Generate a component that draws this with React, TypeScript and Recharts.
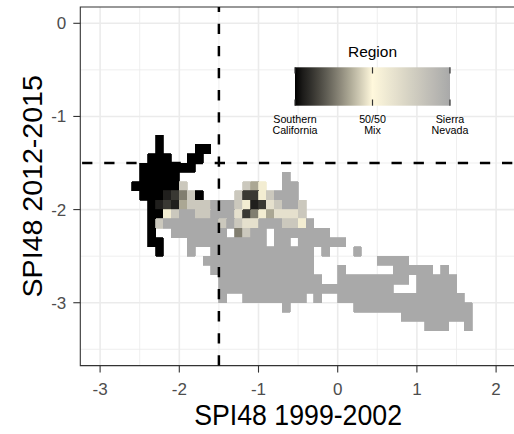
import React from 'react';
import {
  ScatterChart,
  XAxis,
  YAxis,
  CartesianGrid,
  ReferenceArea,
  ReferenceLine,
  Label,
} from 'recharts';

// ---- axes (SPI48 units) ----
const X_DOMAIN: [number, number] = [-3.25, 2.25];
const Y_DOMAIN: [number, number] = [-3.675, 0.175];
const X_TICKS = [-3, -2, -1, 0, 1, 2];
const Y_TICKS = [0, -1, -2, -3];
const X_MINOR = [-2.5, -1.5, -0.5, 0.5, 1.5];
const Y_MINOR = [-0.5, -1.5, -2.5, -3.5];
const DROUGHT_THRESHOLD = -1.5;

// ---- gridded cells, 0.1 x 0.1 SPI units ----
// Each row is keyed by its upper SPI48 2012-2015 edge. A run starts at a
// SPI48 1999-2002 left edge given in tenths and lists one region code per cell.
const ROW_TOP = [
  -1.2, -1.3, -1.4, -1.5, -1.6, -1.7, -1.8, -1.9, -2.0, -2.1, -2.2,
  -2.3, -2.4, -2.5, -2.6, -2.7, -2.8, -2.9, -3.0, -3.1, -3.2,
];

const ROW_RUNS: [number, string][][] = [
  [[-23, 'K']],
  [[-23, 'K'], [-18, 'KK']],
  [[-24, 'KKK'], [-19, 'KK']],
  [[-25, 'KKKKKKK']],
  [[-25, 'KKKKK'], [-7, 'G']],
  [[-26, 'KKKKKKg'], [-12, 'gtb'], [-7, 'GG']],
  [[-25, 'KKKEDdgK'], [-13, 'gDDbgGGG']],
  [[-24, 'KEDEtgggGGGgbEDlgGGg']],
  [[-24, 'KKbgGGggGGGlDdbtlllg']],
  [[-24, 'KgGGGGGGGgGgllGGGggbG']],
  [[-24, 'K'], [-21, 'GGGGGGG'], [-13, 'dgGG'], [-8, 'GGGGGGG']],
  [[-24, 'KK'], [-19, 'GGGGGGGGGG'], [-8, 'GG'], [-5, 'GGGGGG']],
  [[-23, 'K'], [-19, 'G'], [-16, 'GGGGGGGGGGGGG'], [-2, 'G'], [2, 'G']],
  [[-17, 'GGGGGGGGGGGGGG'], [5, 'GGGG']],
  [[-16, 'GGGGGGGGGGGGG'], [0, 'G'], [7, 'GGGGG'], [13, 'G']],
  [[-15, 'GGGGGGGGGGGGG'], [0, 'GGGGGGGGG'], [10, 'GGGGG']],
  [[-15, 'GGGGGGGGGGGGGGGGGGGGGG'], [10, 'GGGGG']],
  [[-15, 'G'], [-12, 'GGGGGGGG'], [-3, 'G'], [0, 'GGGGGGGGGGGGGGGG']],
  [[-7, 'G'], [2, 'GGGGGGGGGGGGGGG']],
  [[8, 'GGGGGGGGG']],
  [[11, 'GGG'], [16, 'G']],
];

// Share of each cell attributed to the Sierra Nevada
// (0 = Southern California, 0.5 = even mix, 1 = Sierra Nevada).
const REGION_SHARE: Record<string, number> = {
  K: 0,
  E: 0.06,
  D: 0.12,
  d: 0.27,
  t: 0.35,
  b: 0.48,
  l: 0.65,
  g: 0.8,
  G: 1,
};

// ---- fill scale and its colour bar ----
const SCALE_STOPS = ['#000000', '#FFF8DC', '#A9A9A9'];
const LEGEND_BREAKS = [0, 0.5, 1];
const LEGEND_LABELS = [
  ['Southern', 'California'],
  ['50/50', 'Mix'],
  ['Sierra', 'Nevada'],
];

const FONT = '"Liberation Sans", Arial, Helvetica, sans-serif';

// Lab interpolation between the three scale stops
const toLin = (c: number) => {
  const v = c / 255;
  return v <= 0.04045 ? v / 12.92 : Math.pow((v + 0.055) / 1.055, 2.4);
};
const fromLin = (c: number) => {
  const v = c <= 0.0031308 ? 12.92 * c : 1.055 * Math.pow(c, 1 / 2.4) - 0.055;
  return Math.round(Math.max(0, Math.min(1, v)) * 255);
};
const EPS = 216 / 24389;
const KAPPA = 24389 / 27;
function hexToLab(hex: string): [number, number, number] {
  const r = toLin(parseInt(hex.slice(1, 3), 16));
  const g = toLin(parseInt(hex.slice(3, 5), 16));
  const b = toLin(parseInt(hex.slice(5, 7), 16));
  const X = (0.4124 * r + 0.3576 * g + 0.1805 * b) / 0.95047;
  const Y = 0.2126 * r + 0.7152 * g + 0.0722 * b;
  const Z = (0.0193 * r + 0.1192 * g + 0.9505 * b) / 1.08883;
  const f = (t: number) => (t > EPS ? Math.cbrt(t) : (KAPPA * t + 16) / 116);
  const fx = f(X);
  const fy = f(Y);
  const fz = f(Z);
  return [116 * fy - 16, 500 * (fx - fy), 200 * (fy - fz)];
}
function labToHex([L, a, bb]: [number, number, number]) {
  const fy = (L + 16) / 116;
  const fx = fy + a / 500;
  const fz = fy - bb / 200;
  const inv = (t: number) => (t * t * t > EPS ? t * t * t : (116 * t - 16) / KAPPA);
  const X = inv(fx) * 0.95047;
  const Y = inv(fy);
  const Z = inv(fz) * 1.08883;
  const r = 3.2406 * X - 1.5372 * Y - 0.4986 * Z;
  const g = -0.9689 * X + 1.8758 * Y + 0.0415 * Z;
  const b = 0.0557 * X - 0.204 * Y + 1.057 * Z;
  return '#' + [r, g, b].map(fromLin).map((v) => v.toString(16).padStart(2, '0')).join('');
}
const LAB_STOPS = SCALE_STOPS.map(hexToLab);
function regionColor(share: number) {
  const lo = share <= 0.5 ? 0 : 1;
  const t = share <= 0.5 ? share / 0.5 : (share - 0.5) / 0.5;
  const A = LAB_STOPS[lo];
  const B = LAB_STOPS[lo + 1];
  return labToHex([0, 1, 2].map((i) => A[i] + (B[i] - A[i]) * t) as [number, number, number]);
}

const tenth = (v: number) => Math.round(v * 1000) / 1000;
const cells = ROW_TOP.flatMap((top, r) =>
  ROW_RUNS[r].flatMap(([k0, codes]) =>
    codes.split('').map((code, j) => ({
      x1: tenth((k0 + j) / 10),
      x2: tenth((k0 + j + 1) / 10),
      y1: tenth(top - 0.1),
      y2: top,
      color: regionColor(REGION_SHARE[code]),
    }))
  )
);

// axis titles are drawn slightly taller than wide
const TITLE_SIZE = 26.7;
const TITLE_STRETCH = 1.07;

const XTitle = (props: any) => {
  const vb = props.viewBox || {};
  const x = vb.x + vb.width / 2;
  const y = vb.y + vb.height - 9;
  return (
    <text
      transform={`translate(${x}, ${y}) scale(1, ${TITLE_STRETCH})`}
      textAnchor="middle"
      fontSize={TITLE_SIZE}
      fill="#000"
      fontFamily={FONT}
    >
      SPI48 1999-2002
    </text>
  );
};

const YTitle = (props: any) => {
  const vb = props.viewBox || {};
  const x = vb.x + 41.2;
  const y = vb.y + vb.height / 2;
  return (
    <text
      transform={`translate(${x}, ${y}) scale(1, ${TITLE_STRETCH}) rotate(-90)`}
      textAnchor="middle"
      fontSize={TITLE_SIZE}
      fill="#000"
      fontFamily={FONT}
    >
      SPI48 2012-2015
    </text>
  );
};

// colour bar geometry (px)
const BAR = { x: 295, y: 67.3, w: 155, h: 38.4 };
const GRADIENT_STEPS = Array.from({ length: 21 }, (_, i) => i / 20);

const RegionLegend = () => (
  <svg
    width={514}
    height={434}
    style={{ position: 'absolute', left: 0, top: 0, pointerEvents: 'none' }}
    fontFamily={FONT}
  >
    <defs>
      <linearGradient id="regionBar" x1="0" x2="1" y1="0" y2="0">
        {GRADIENT_STEPS.map((s) => (
          <stop key={s} offset={s} stopColor={regionColor(s)} />
        ))}
      </linearGradient>
    </defs>
    <text x={BAR.x + BAR.w / 2} y={57} textAnchor="middle" fontSize={15.5} fill="#000">
      Region
    </text>
    <rect x={BAR.x} y={BAR.y} width={BAR.w} height={BAR.h} fill="url(#regionBar)" />
    {LEGEND_BREAKS.map((b, i) => {
      const x = BAR.x + b * BAR.w;
      return (
        <g key={b}>
          <line x1={x} x2={x} y1={BAR.y} y2={BAR.y + 6.2} stroke="#333" strokeWidth={1.2} />
          <line x1={x} x2={x} y1={BAR.y + BAR.h - 6.2} y2={BAR.y + BAR.h} stroke="#333" strokeWidth={1.2} />
          <text x={x} y={122.7} textAnchor="middle" fontSize={10.7} fill="#000">
            {LEGEND_LABELS[i][0]}
          </text>
          <text x={x} y={134} textAnchor="middle" fontSize={10.7} fill="#000">
            {LEGEND_LABELS[i][1]}
          </text>
        </g>
      );
    })}
  </svg>
);

export default function App() {
  return (
    <div
      style={{
        position: 'absolute',
        left: 0,
        top: 0,
        width: 514,
        height: 434,
        overflow: 'hidden',
        background: '#fff',
        fontFamily: FONT,
      }}
    >
      <ScatterChart width={530} height={434} margin={{ top: 7, right: 14.1, bottom: 0, left: 0.3 }}>
        <CartesianGrid
          horizontalValues={Y_MINOR}
          verticalValues={X_MINOR}
          stroke="#EBEBEB"
          strokeWidth={0.8}
        />
        <CartesianGrid
          horizontalValues={Y_TICKS}
          verticalValues={X_TICKS}
          stroke="#EBEBEB"
          strokeWidth={1.6}
        />
        <XAxis
          type="number"
          dataKey="x"
          domain={X_DOMAIN}
          ticks={X_TICKS}
          allowDataOverflow
          height={68.4}
          tickSize={7}
          tickMargin={10}
          axisLine={false}
          tickLine={{ stroke: '#333333', strokeWidth: 1.1 }}
          tick={{ fill: '#4D4D4D', fontSize: 17, fontFamily: FONT }}
        >
          <Label content={XTitle} />
        </XAxis>
        <YAxis
          type="number"
          dataKey="y"
          domain={Y_DOMAIN}
          ticks={Y_TICKS}
          allowDataOverflow
          width={80}
          tickSize={7}
          tickMargin={7}
          axisLine={false}
          tickLine={{ stroke: '#333333', strokeWidth: 1.1 }}
          tick={{ fill: '#4D4D4D', fontSize: 17, fontFamily: FONT }}
        >
          <Label content={YTitle} />
        </YAxis>
        {cells.map((c) => (
          <ReferenceArea
            key={`${c.x1}_${c.y2}`}
            x1={c.x1}
            x2={c.x2}
            y1={c.y1}
            y2={c.y2}
            fill={c.color}
            fillOpacity={1}
            stroke={c.color}
            strokeWidth={0.8}
            shapeRendering="crispEdges"
            ifOverflow="visible"
          />
        ))}
        <ReferenceArea
          x1={X_DOMAIN[0]}
          x2={X_DOMAIN[1]}
          y1={Y_DOMAIN[0]}
          y2={Y_DOMAIN[1]}
          fill="none"
          fillOpacity={0}
          stroke="#333333"
          strokeWidth={1.1}
          ifOverflow="visible"
        />
        <ReferenceLine
          x={DROUGHT_THRESHOLD}
          stroke="#000"
          strokeWidth={2.5}
          strokeDasharray="10.3 11.8"
        />
        <ReferenceLine
          y={DROUGHT_THRESHOLD}
          stroke="#000"
          strokeWidth={2.5}
          strokeDasharray="10.3 11.8"
          strokeDashoffset={-1.8}
        />
      </ScatterChart>
      <RegionLegend />
    </div>
  );
}
